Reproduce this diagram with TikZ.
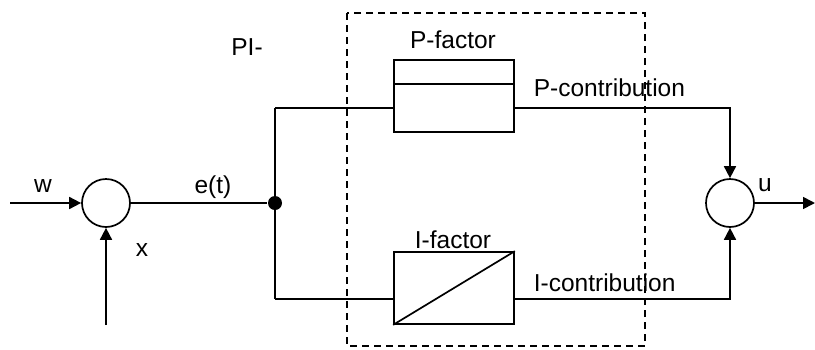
\documentclass[tikz,border=0pt]{standalone}
\usepackage{fontspec}
\setmainfont{Liberation Sans}
\usetikzlibrary{arrows.meta}
\begin{document}
\begin{tikzpicture}[x=1pt,y=-1pt,
  line width=1.7pt,
  lbl/.style={font=\fontsize{24.5}{28}\selectfont, inner sep=0pt},
  sumnode/.style={draw, circle, minimum size=48pt, inner sep=0pt},
  blk/.style={draw, rectangle, minimum width=120pt, minimum height=72pt, inner sep=0pt},
  arr/.style={-{Triangle[length=12pt,width=12pt]}},
  dot/.style={circle, fill, minimum size=14pt, inner sep=0pt}]
\useasboundingbox (0,0) rectangle (815,349);
% dashed PI frame
\draw[dash pattern=on 7pt off 5pt] (347,13) rectangle (645,346);
% nodes
\node[sumnode] (s1) at (106,203) {};
\node[sumnode] (s2) at (730,203) {};
\node[dot] (j) at (275,203) {};
\node[blk] (P) at (454,96) {};
\draw (P.west |- 0,84) -- (P.east |- 0,84);
\node[blk] (I) at (454,288) {};
\draw (I.south west) -- (I.north east);
\coordinate (win) at (10,203);
\coordinate (xin) at (106,325);
\coordinate (uout) at (815,203);
\coordinate (jt) at (275,108);
\coordinate (jb) at (275,299);
\coordinate (pc) at (730,108);
\coordinate (ic) at (730,299);
% connectors
\draw[arr] (win) -- (s1);
\draw[arr] (xin) -- (s1);
\draw (s1) -- (j);
\draw (jt) -- (jb);
\draw (jt) -- (P.west |- jt);
\draw (jb) -- (I.west |- jb);
\draw[arr] (P.east |- pc) -- (pc) -- (s2);
\draw[arr] (I.east |- ic) -- (ic) -- (s2);
\draw[arr] (s2) -- (uout);
% labels
\node[lbl] (lw) at (43,186) {w};
\node[lbl] (lx) at (142,250) {x};
\node[lbl] (le) at (213,187) {e(t)};
\node[lbl] (lu) at (765,185) {u};
\node[lbl] (lpi) at (247,47) {PI-};
\node[lbl] (lpf) at (453,40) {P-factor};
\node[lbl] (lif) at (453,240) {I-factor};
\node[lbl, anchor=west] (lpc) at (533,88) {P-contribution};
\node[lbl, anchor=west] (lic) at (533,283) {I-contribution};
\end{tikzpicture}
\end{document}
